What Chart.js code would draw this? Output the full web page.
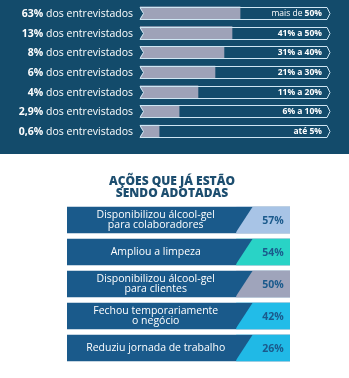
<!DOCTYPE html>
<html>
<head>
<meta charset="utf-8">
<script src="https://cdn.jsdelivr.net/npm/chart.js@4.4.0/dist/chart.umd.min.js"></script>
<style>
  body { margin: 0; width: 349px; height: 378px; overflow: hidden; }
  #top { width: 349px; height: 154px; background: #134b6b; }
  #bottom { width: 349px; height: 224px; background: #fff; }
  canvas { display: block; }
</style>
</head>
<body>
<div id="top"><canvas id="faixas" width="349" height="154"></canvas></div>
<div id="bottom"><canvas id="acoes" width="349" height="224"></canvas></div>
<script>
// share of respondents per revenue-loss band
const shares = ['63%', '13%', '8%', '6%', '4%', '2,9%', '0,6%'];
const bands = [
  ['mais de ', '50%'],
  ['', '41% a 50%'],
  ['', '31% a 40%'],
  ['', '21% a 30%'],
  ['', '11% a 20%'],
  ['', '6% a 10%'],
  ['', 'até 5%']
];
// grey fill length (percent of the track)
const fillLength = [53.5, 49.2, 44.9, 40.1, 31, 20.9, 10.2];

// actions already adopted
const title = ['AÇÕES QUE JÁ ESTÃO', 'SENDO ADOTADAS'];
const actions = [
  ['Disponibilizou álcool-gel', 'para colaboradores'],
  ['Ampliou a limpeza'],
  ['Disponibilizou álcool-gel', 'para clientes'],
  ['Fechou temporariamente', 'o negócio'],
  ['Reduziu jornada de trabalho']
];
const actionShare = [57, 54, 50, 42, 26];
const actionColors = ['#a8c4e6', '#29d3c6', '#9fa4bb', '#22bce8', '#20b9e6'];

const FONT = "'Open Sans', sans-serif";
const NAVY = '#134b6b';
const BOX = '#1a5a8b';

const trackPlugin = {
  id: 'track',
  afterDatasetsDraw(chart) {
    const ctx = chart.ctx;
    const x = chart.scales.x;
    const meta = chart.getDatasetMeta(0);
    const x0 = x.getPixelForValue(0);
    const x1 = x.getPixelForValue(100);
    ctx.save();
    meta.data.forEach((bar, i) => {
      const top = Math.round(bar.y - 6) + 0.5;
      const bot = top + 12;
      const mid = (top + bot) / 2;
      // notch on the left of the grey fill
      ctx.fillStyle = NAVY;
      ctx.beginPath();
      ctx.moveTo(x0 - 1, top - 0.5);
      ctx.lineTo(x0 + 3.5, mid);
      ctx.lineTo(x0 - 1, bot + 0.5);
      ctx.closePath();
      ctx.fill();
      // chevron outline
      ctx.strokeStyle = '#cfe6f3';
      ctx.lineWidth = 1;
      ctx.beginPath();
      ctx.moveTo(x0, top);
      ctx.lineTo(x1, top);
      ctx.lineTo(x1 + 3, mid);
      ctx.lineTo(x1, bot);
      ctx.lineTo(x0, bot);
      ctx.lineTo(x0 + 3.5, mid);
      ctx.closePath();
      ctx.stroke();

      ctx.fillStyle = '#ffffff';
      ctx.textBaseline = 'middle';
      // left label: bold share + regular text, right aligned
      const rest = ' dos entrevistados';
      ctx.font = '400 10.5px ' + FONT;
      const wRest = ctx.measureText(rest).width;
      ctx.font = '700 10.5px ' + FONT;
      const wShare = ctx.measureText(shares[i]).width;
      const right = x0 - 7;
      ctx.textAlign = 'left';
      ctx.fillText(shares[i], right - wRest - wShare, mid + 0.5);
      ctx.font = '400 10.5px ' + FONT;
      ctx.fillText(rest, right - wRest, mid + 0.5);

      // band label inside the track
      const [light, bold] = bands[i];
      ctx.font = '700 8.5px ' + FONT;
      const wBold = ctx.measureText(bold).width;
      ctx.font = '400 8.5px ' + FONT;
      const wLight = ctx.measureText(light).width;
      const r = x1 - 5;
      ctx.fillText(light, r - wBold - wLight, mid + 0.5);
      ctx.font = '700 8.5px ' + FONT;
      ctx.fillText(bold, r - wBold, mid + 0.5);
    });
    ctx.restore();
  }
};

new Chart(document.getElementById('faixas'), {
  type: 'bar',
  data: {
    labels: shares,
    datasets: [{
      data: fillLength,
      backgroundColor: '#9ea2b8',
      borderWidth: 0,
      barThickness: 12
    }]
  },
  options: {
    indexAxis: 'y',
    responsive: false,
    animation: false,
    layout: { padding: { left: 140, right: 22, top: 3, bottom: 13 } },
    scales: {
      x: { display: false, min: 0, max: 100 },
      y: { display: false }
    },
    plugins: { legend: { display: false }, tooltip: { enabled: false } }
  },
  plugins: [trackPlugin]
});

const actionPlugin = {
  id: 'actionText',
  afterDatasetsDraw(chart) {
    const ctx = chart.ctx;
    const x = chart.scales.x;
    const meta = chart.getDatasetMeta(1);
    const left = x.getPixelForValue(0);
    const right = x.getPixelForValue(100);
    ctx.save();
    ctx.textAlign = 'center';
    ctx.textBaseline = 'middle';
    ctx.fillStyle = '#1d4e6f';
    ctx.font = '800 12px ' + FONT;
    title.forEach((t, k) => ctx.fillText(t, 172, 28 + k * 12));

    meta.data.forEach((bar, i) => {
      const top = bar.y - bar.height / 2;
      const bot = bar.y + bar.height / 2;
      const start = bar.base;
      // slanted edge of the coloured tail
      ctx.fillStyle = BOX;
      ctx.beginPath();
      ctx.moveTo(start - 1, top);
      ctx.lineTo(start + 16, top);
      ctx.lineTo(start - 1, bot);
      ctx.closePath();
      ctx.fill();

      ctx.fillStyle = '#ffffff';
      ctx.font = '400 10.5px ' + FONT;
      const lines = actions[i];
      const cx = (left + start + 8) / 2;
      const lh = 10;
      lines.forEach((t, k) => {
        ctx.fillText(t, cx, bar.y + (k - (lines.length - 1) / 2) * lh);
      });

      ctx.fillStyle = '#1b5a8c';
      ctx.font = '700 10.5px ' + FONT;
      ctx.fillText(actionShare[i] + '%', right - 17, bar.y + 1);
    });
    ctx.restore();
  }
};

new Chart(document.getElementById('acoes'), {
  type: 'bar',
  data: {
    labels: actions.map(a => a.join(' ')),
    datasets: [
      {
        data: actionShare.map(() => 100),
        backgroundColor: BOX,
        borderWidth: 0,
        barThickness: 26,
        grouped: false,
        order: 2
      },
      {
        data: actionShare.map(() => [76, 100]),
        backgroundColor: actionColors,
        borderWidth: 0,
        barThickness: 26,
        grouped: false,
        order: 1
      }
    ]
  },
  options: {
    indexAxis: 'y',
    responsive: false,
    animation: false,
    layout: { padding: { left: 67, right: 59, top: 50, bottom: 14 } },
    scales: {
      x: { display: false, min: 0, max: 100 },
      y: { display: false }
    },
    plugins: { legend: { display: false }, tooltip: { enabled: false } }
  },
  plugins: [actionPlugin]
});
</script>
</body>
</html>
